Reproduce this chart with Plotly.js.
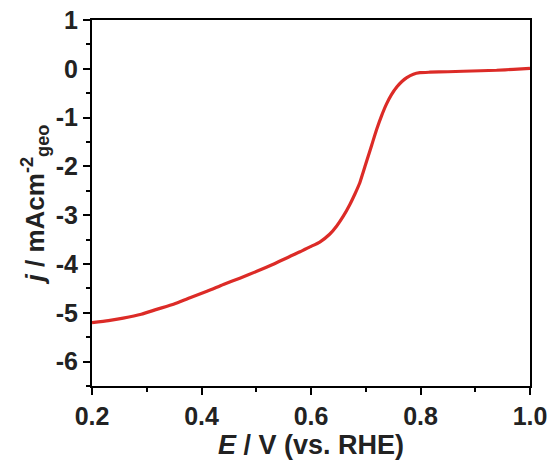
<!DOCTYPE html>
<html>
<head>
<meta charset="utf-8">
<script src="https://cdn.plot.ly/plotly-3.0.1.min.js"></script>
<style>html,body{margin:0;padding:0;background:#fff;}</style>
</head>
<body>
<div id="chart" style="width:551px;height:465px;"></div>
<script>
const potentialV = [0.200, 0.230, 0.257, 0.290, 0.318, 0.350, 0.379, 0.410, 0.440, 0.470, 0.501, 0.530, 0.562, 0.580, 0.598, 0.616, 0.634, 0.647, 0.659, 0.671, 0.680, 0.689, 0.695, 0.702, 0.711, 0.720, 0.729, 0.738, 0.747, 0.757, 0.766, 0.775, 0.787, 0.799, 0.817, 0.850, 0.878, 0.910, 0.939, 0.970, 1.000];
const currentDensity = [-5.20, -5.16, -5.11, -5.03, -4.93, -4.82, -4.69, -4.56, -4.42, -4.29, -4.15, -4.01, -3.84, -3.75, -3.65, -3.55, -3.39, -3.22, -3.02, -2.78, -2.57, -2.34, -2.13, -1.88, -1.56, -1.24, -0.96, -0.72, -0.53, -0.37, -0.26, -0.18, -0.11, -0.08, -0.07, -0.06, -0.05, -0.04, -0.03, -0.01, 0.01];
const xTickVals = [0.2, 0.4, 0.6, 0.8, 1.0];
const xTickText = ['0.2', '0.4', '0.6', '0.8', '1.0'];
const yTickVals = [1, 0, -1, -2, -3, -4, -5, -6];
const yTickText = ['1', '0', '-1', '-2', '-3', '-4', '-5', '-6'];

const fontFamily = '"Liberation Sans", Arial, sans-serif';
const trace = {
  x: potentialV, y: currentDensity, type: 'scatter', mode: 'lines',
  line: {color: '#dc2b27', width: 3.2, shape: 'spline', smoothing: 0.5},
  hoverinfo: 'skip'
};
const axisCommon = {
  showgrid: false, zeroline: false, showline: true, linecolor: '#000', linewidth: 2,
  mirror: true, ticks: 'outside', ticklen: 7, tickwidth: 2, tickcolor: '#000',
  tickfont: {family: fontFamily, size: 25, color: '#222', weight: 'bold'}
};
const layout = {
  width: 551, height: 465,
  margin: {l: 92, r: 21, t: 20, b: 79},
  paper_bgcolor: '#fff', plot_bgcolor: '#fff',
  showlegend: false,
  xaxis: Object.assign({}, axisCommon, {
    range: [0.2, 1.0], tickvals: xTickVals, ticktext: xTickText,
    minor: {dtick: 0.1, tick0: 0.2, ticks: 'outside', ticklen: 4, tickwidth: 2, tickcolor: '#000'},
    title: {text: '<i>E</i> / V (vs. RHE)', font: {family: fontFamily, size: 27, color: '#222', weight: 'bold'}, standoff: 2}
  }),
  yaxis: Object.assign({}, axisCommon, {
    range: [-6.5, 1], tickvals: yTickVals, ticktext: yTickText,
    minor: {dtick: 0.5, tick0: 0, ticks: 'outside', ticklen: 4, tickwidth: 2, tickcolor: '#000'},
    title: {text: '<i>j</i> / mAcm<sup>-2</sup><sub>geo</sub>', font: {family: fontFamily, size: 26, color: '#222', weight: 'bold'}, standoff: 4}
  })
};
Plotly.newPlot('chart', [trace], layout, {displayModeBar: false, staticPlot: true});
</script>
</body>
</html>
